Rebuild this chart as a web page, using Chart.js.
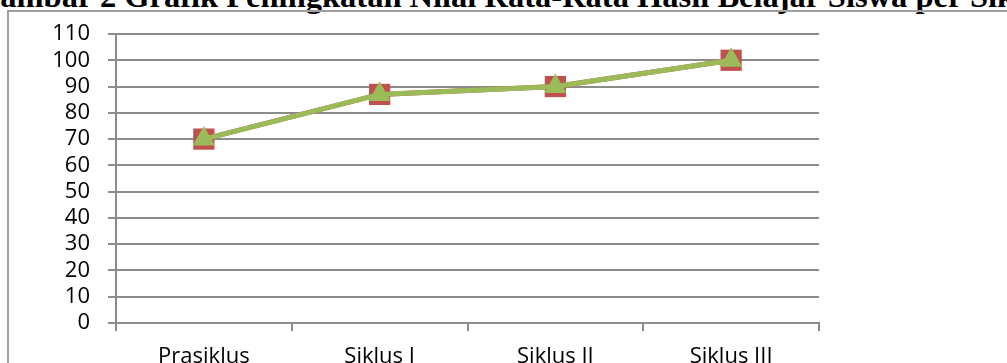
<!DOCTYPE html>
<html lang="id">
<head>
    <meta charset="UTF-8">
    <title>Grafik Peningkatan Nilai Rata-Rata</title>
    <script src="https://cdn.jsdelivr.net/npm/chart.js@4.4.1/dist/chart.umd.min.js"></script>
    <style>
        html, body {
            margin: 0;
            padding: 0;
            background: #fff;
            overflow: hidden;
            width: 1007px;
            height: 363px;
            position: relative;
        }
        .title {
            position: absolute;
            left: -25px;
            top: -22px;
            white-space: nowrap;
            font-family: "Liberation Serif", "Times New Roman", serif;
            font-weight: bold;
            font-size: 32.5px;
            color: #000;
        }
        .frame {
            position: absolute;
            left: 7px;
            top: 10px;
            width: 1100px;
            height: 400px;
            border-left: 2px solid #a0a0a0;
            border-top: 2px solid #a0a0a0;
        }
        #chartBox {
            position: absolute;
            left: 0;
            top: 0;
            width: 1007px;
            height: 363px;
        }
    </style>
</head>
<body>
    <div class="title">Gambar 2 Grafik Peningkatan Nilai Rata-Rata Hasil Belajar Siswa per Siklus</div>
    <div class="frame"></div>
    <div id="chartBox"><canvas id="nilaiChart"></canvas></div>

<script>
    // data
    var siklus = ['Prasiklus', 'Siklus I', 'Siklus II', 'Siklus III'];
    var nilaiA = [70, 87, 90, 100];
    var nilaiB = [70, 87, 90, 100];
    var yTicks = [0, 10, 20, 30, 40, 50, 60, 70, 80, 90, 100, 110];

    var gridGray = '#8c8c8c';
    var labelFont = { family: '"Open Sans", sans-serif', size: 22 };

    var ctx = document.getElementById('nilaiChart').getContext('2d');
    var chart = new Chart(ctx, {
        type: 'line',
        data: {
            labels: siklus,
            datasets: [{
                label: 'Seri 1',
                data: nilaiA,
                borderColor: '#C0504D',
                backgroundColor: '#C0504D',
                borderWidth: 5,
                pointStyle: 'rect',
                pointRadius: 15,
                pointBorderWidth: 0,
                pointBackgroundColor: '#C0504D',
                tension: 0,
                order: 2
            }, {
                label: 'Seri 2',
                data: nilaiB,
                borderColor: '#9BBB59',
                backgroundColor: '#9BBB59',
                borderWidth: 5,
                pointStyle: 'triangle',
                pointRadius: 13,
                pointBorderWidth: 0,
                pointBackgroundColor: '#9BBB59',
                tension: 0,
                order: 1
            }]
        },
        options: {
            responsive: true,
            maintainAspectRatio: false,
            animation: false,
            layout: {
                padding: { left: 0, right: 188, top: 34, bottom: 0 }
            },
            plugins: {
                legend: { display: false },
                tooltip: { enabled: false }
            },
            scales: {
                x: {
                    offset: true,
                    grid: {
                        offset: true,
                        drawOnChartArea: false,
                        drawTicks: true,
                        tickLength: 8,
                        color: gridGray,
                        lineWidth: 2
                    },
                    border: { color: gridGray, width: 2 },
                    ticks: {
                        color: '#000',
                        font: labelFont,
                        padding: 13,
                        maxRotation: 0,
                        autoSkip: false
                    },
                    afterFit: function(scale) { scale.height = 40; }
                },
                y: {
                    min: 0,
                    max: 110,
                    afterBuildTicks: function(scale) {
                        scale.ticks = yTicks.map(function(v) { return { value: v }; });
                    },
                    grid: {
                        drawTicks: true,
                        tickLength: 8,
                        color: gridGray,
                        lineWidth: 2
                    },
                    border: { color: gridGray, width: 2 },
                    ticks: {
                        color: '#000',
                        font: labelFont,
                        padding: 18,
                        autoSkip: false
                    },
                    afterFit: function(scale) { scale.width = 116; }
                }
            }
        }
    });
</script>
</body>
</html>
